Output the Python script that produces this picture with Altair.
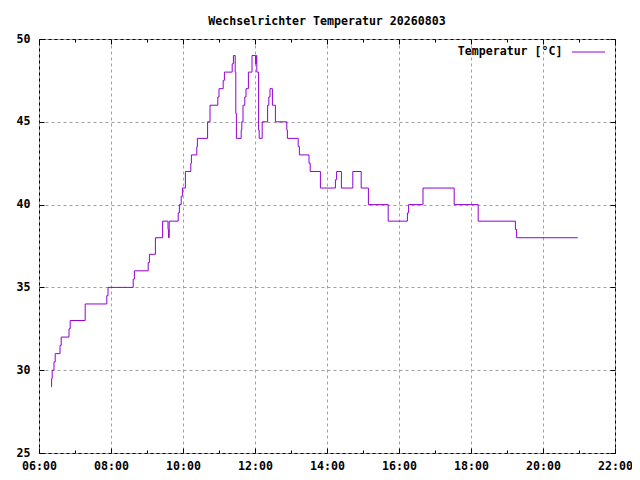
import altair as alt
import pandas as pd

# ---- data ----
times = ["06:20","06:21","06:22","06:25","06:27","06:35","06:37","06:50","06:52","07:17",
         "07:53","07:55","08:37","08:39","09:02","09:04","09:14","09:26","09:35","09:36",
         "09:37","09:52","09:54","09:57","09:59","10:04","10:13","10:14","10:23","10:24",
         "10:41","10:45","10:58","11:00","11:07","11:09","11:22","11:24","11:27","11:28",
         "11:29","11:37","11:38","11:40","11:43","11:45","11:49","11:55","12:01","12:02",
         "12:03","12:06","12:07","12:12","12:21","12:23","12:25","12:29","12:34","12:53",
         "12:54","13:12","13:14","13:30","13:32","13:49","14:14","14:16","14:24","14:43",
         "14:57","15:09","15:42","16:14","16:16","16:40","17:32","18:12","19:14","19:16",
         "20:58"]
temps = [29, 29.5, 30, 30.5, 31, 31.5, 32, 32.5, 33, 34,
         34.5, 35, 35.5, 36, 36.5, 37, 38, 39, 38.5, 38,
         39, 39.5, 40, 40.5, 41, 42, 42.5, 43, 43.5, 44,
         45, 46, 46.5, 47, 47.5, 48, 48.5, 49, 48, 45.5,
         44, 44.5, 45, 46, 46.5, 47, 48, 49, 48.5, 49,
         48, 44.5, 44, 45, 46, 46.5, 47, 46, 45, 44.5,
         44, 43.5, 43, 42.5, 42, 41, 41.5, 42, 41, 42,
         41, 40, 39, 39.5, 40, 41, 40, 39, 38.5, 38,
         38]
series_name = "Temperatur [°C]"
title_text = "Wechselrichter Temperatur 20260803"
x_major = [6, 8, 10, 12, 14, 16, 18, 20, 22]
x_minor = [7, 9, 11, 13, 15, 17, 19, 21]
y_major = [25, 30, 35, 40, 45, 50]

hours = [int(t[:2]) + int(t[3:]) / 60 for t in times]
df = pd.DataFrame({"h": hours, "t": temps, "s": [series_name] * len(times)})

FONT = "DejaVu Sans Mono"
FS = 11.6
W, H = 576, 414
COL = "#9400D3"

xs = alt.Scale(domain=[6, 22], nice=False, zero=False)
ys = alt.Scale(domain=[25, 50], nice=False, zero=False)
lab = "(datum.value < 10 ? '0' : '') + datum.value + ':00'"

base = alt.Chart(df)

main = base.mark_line(interpolate="step-after", strokeWidth=1).encode(
    x=alt.X("h:Q", scale=xs, title=None,
            axis=alt.Axis(values=x_major, labelExpr=lab, grid=True, ticks=False, tickSize=0,
                          domain=False, labelPadding=7, labelFlush=False)),
    y=alt.Y("t:Q", scale=ys, title=None,
            axis=alt.Axis(values=y_major, grid=True, ticks=False, tickSize=0,
                          domain=False, labelPadding=9, labelFlush=False)),
    color=alt.Color("s:N", scale=alt.Scale(range=[COL]),
                    legend=alt.Legend(title=None, orient="none", legendX=532.5, legendY=-4,
                                      symbolType="stroke", symbolSize=1089, symbolStrokeWidth=1,
                                      symbolOffset=0,
                                      labelAlign="right", labelOffset=alt.ExprRef("-43"),
                                      labelFont=FONT, labelFontSize=FS, labelFontWeight="bold",
                                      labelColor="black")),
)

def tick_axis(orient, offset, values, size):
    return alt.Axis(orient=orient, offset=offset, values=values, ticks=True, tickSize=size,
                    tickColor="black", tickWidth=1, labels=False, domain=False, grid=False)

def tick_layer(xaxis, yaxis):
    return base.mark_line(opacity=0).encode(
        x=alt.X("h:Q", scale=xs, title=None, axis=xaxis),
        y=alt.Y("t:Q", scale=ys, title=None, axis=yaxis),
    )

l1 = tick_layer(tick_axis("top", -H, x_major, 5), tick_axis("right", -W, y_major, 5))
l2 = tick_layer(tick_axis("bottom", -H, x_major, 5), tick_axis("left", -W, y_major, 5))
l3 = tick_layer(tick_axis("top", -H, x_minor, 3), None)
l4 = tick_layer(tick_axis("bottom", -H, x_minor, 3), None)

chart = alt.layer(main, l1, l2, l3, l4).resolve_axis(x="independent", y="independent").properties(
    width=W, height=H,
    title=alt.TitleParams(title_text, font=FONT, fontSize=FS, fontWeight="bold", color="black",
                          anchor="middle", offset=5),
    autosize=alt.AutoSizeParams(type="none"),
    padding={"left": 31, "top": 31, "right": 17, "bottom": 19},
    background="white",
).configure_view(stroke="black", strokeWidth=1).configure_axis(
    labelFont=FONT, labelFontSize=FS, labelFontWeight="bold", labelColor="black",
    gridColor="#a0a0a0", gridDash=[3, 3], gridWidth=1,
)

chart.save("out.html", embed_options={"renderer": "svg", "actions": False})
